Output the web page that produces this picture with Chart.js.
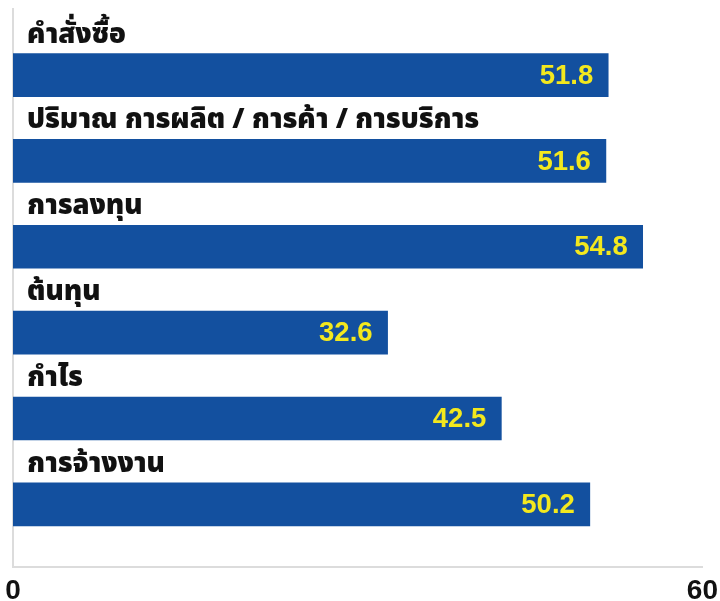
<!DOCTYPE html>
<html>
<head>
<meta charset="utf-8">
<script src="https://cdn.jsdelivr.net/npm/chart.js@4/dist/chart.umd.min.js"></script>
<style>
  html, body { margin: 0; padding: 0; background: #fff; }
  #wrap { width: 720px; height: 601px; position: relative; }
</style>
</head>
<body>
<div id="wrap"><canvas id="chart"></canvas></div>
<script>
const categories = ['คำสั่งซื้อ', 'ปริมาณ การผลิต / การค้า / การบริการ', 'การลงทุน', 'ต้นทุน', 'กำไร', 'การจ้างงาน'];
const values = [51.8, 51.6, 54.8, 32.6, 42.5, 50.2];
const axisTicks = [0, 60];

const thaiFont = "'Noto Sans Thai', 'Noto Sans', 'DejaVu Sans', sans-serif";

// labels above each bar + value inside the bar end
const barLabels = {
    id: 'barLabels',
    afterDatasetsDraw(chart) {
        const ctx = chart.ctx;
        const meta = chart.getDatasetMeta(0);
        const left = chart.chartArea.left;
        ctx.save();
        meta.data.forEach((bar, i) => {
            const half = bar.height / 2;
            ctx.fillStyle = '#111';
            ctx.font = '900 27.7px ' + thaiFont;
            ctx.textAlign = 'left';
            ctx.textBaseline = 'alphabetic';
            ctx.fillText(categories[i], left + 14, bar.y - half - 11);

            ctx.fillStyle = '#F3E81E';
            ctx.font = 'bold 27.5px "Liberation Sans", Arial, sans-serif';
            ctx.textAlign = 'right';
            ctx.textBaseline = 'middle';
            ctx.fillText(values[i].toFixed(1), bar.x - 15, bar.y + 1);
        });
        ctx.restore();
    }
};

const ctx = document.getElementById('chart').getContext('2d');
const chart = new Chart(ctx, {
    type: 'bar',
    data: {
        datasets: [{
            data: values.map((v, i) => ({ x: v, y: i })),
            backgroundColor: '#13509F',
            barThickness: 43
        }]
    },
    options: {
        indexAxis: 'y',
        responsive: true,
        maintainAspectRatio: false,
        animation: false,
        layout: { padding: { left: 5, top: 9, right: 17, bottom: 0 } },
        plugins: {
            legend: { display: false },
            tooltip: { enabled: false }
        },
        scales: {
            x: {
                type: 'linear',
                min: axisTicks[0],
                max: axisTicks[axisTicks.length - 1],
                afterBuildTicks: (scale) => {
                    scale.ticks = axisTicks.map(v => ({ value: v }));
                },
                afterFit: (scale) => { scale.height = 34; },
                grid: { display: false },
                border: { color: '#dcdcdc', width: 2 },
                ticks: {
                    color: '#111',
                    padding: 2,
                    maxRotation: 0,
                    font: { family: '"Liberation Sans", Arial, sans-serif', size: 28, weight: 'bold', lineHeight: 1 }
                }
            },
            y: {
                type: 'linear',
                reverse: true,
                offset: false,
                min: -0.77,
                max: 5.73,
                grid: { display: false, offset: false },
                border: { color: '#dcdcdc', width: 2 },
                ticks: { display: false }
            }
        }
    },
    plugins: [barLabels]
});
</script>
</body>
</html>
